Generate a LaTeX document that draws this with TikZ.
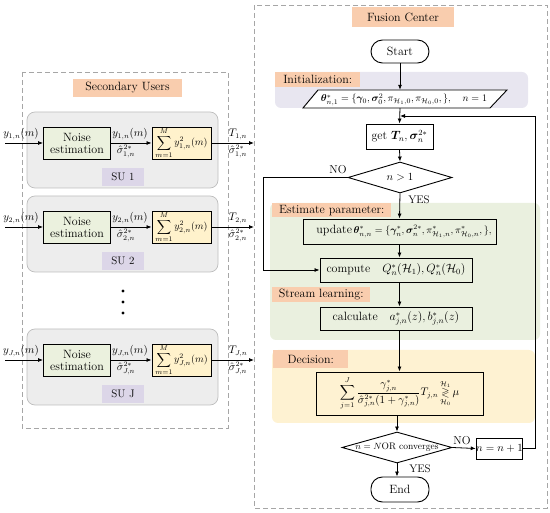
\documentclass[tikz,border=0pt]{standalone}
\usepackage{amsmath,amssymb,bm}
\usetikzlibrary{shapes.geometric,arrows.meta,calc}
\definecolor{lblorange}{HTML}{F9CDAE}
\definecolor{sugray}{HTML}{EDEDED}
\definecolor{suborder}{HTML}{BDBDBD}
\definecolor{sulbl}{HTML}{DCD6E8}
\definecolor{noisegreen}{HTML}{EBF1DE}
\definecolor{sumyellow}{HTML}{FFF2CC}
\definecolor{initbg}{HTML}{E8E6F0}
\definecolor{estbg}{HTML}{EAF0DF}
\definecolor{decbg}{HTML}{FEF2D2}
\definecolor{dashgray}{HTML}{A6A6A6}
\tikzset{
  box/.style={draw, line width=0.9pt, inner sep=0pt, align=center},
  arr/.style={-{Latex[length=5pt,width=4pt]}, line width=0.8pt},
  lbl/.style={fill=lblorange, inner sep=0pt},
  sulabel/.style={fill=sulbl, inner sep=0pt, minimum width=42pt, minimum height=18pt, font=\fontsize{11}{12}\selectfont},
  subox/.style={draw=suborder, fill=sugray, line width=0.7pt, rounded corners=8pt},
  dashbox/.style={draw=dashgray, line width=0.9pt, dash pattern=on 5pt off 3pt},
  region/.style={rounded corners=6pt},
  smalltxt/.style={font=\fontsize{10.5}{12}\selectfont, inner sep=0pt},
  dia/.style={draw, diamond, fill=white, line width=0.9pt, inner sep=0pt},
  stadium/.style={box, fill=white, rounded corners=11.5pt},
}
\begin{document}
\begin{tikzpicture}[x=1pt,y=-1pt,font=\fontsize{12}{14}\selectfont]
\useasboundingbox (0,0) rectangle (550,513);
% ---------- Secondary users ----------
\draw[dashbox] (22,72) rectangle (228,428);
\node[lbl, minimum width=109pt, minimum height=18pt] (sulbltitle) at (127.5,88) {Secondary Users};
\foreach \t/\i/\s [count=\k] in {112/1/SU 1, 196/2/SU 2, 329/J/SU J}{
  \draw[subox] (27,\t) rectangle (218,\t+76);
  \node[box, fill=noisegreen, minimum width=67pt, minimum height=32pt] (noise\k) at (77,\t+31) {Noise\\[-2pt]estimation};
  \node[box, fill=sumyellow, minimum width=59pt, minimum height=32pt, font=\fontsize{10}{12}\selectfont] (sum\k) at (181.5,\t+31) {$\displaystyle\sum_{m=1}^{M} y_{\i,n}^{2}(m)$};
  \node[sulabel] (su\k) at (123,\t+65) {\s};
  \coordinate (in\k) at (5,\t+31);
  \coordinate (out\k) at (254,\t+31);
  \draw[arr] (in\k) -- (noise\k.west);
  \draw[arr] (noise\k.east) -- (sum\k.west);
  \draw[arr] (sum\k.east) -- (out\k);
  \node[smalltxt, anchor=south] (yin\k) at (21,\t+28) {$y_{\i,n}(m)$};
  \node[smalltxt, anchor=south] (ymid\k) at (130,\t+28) {$y_{\i,n}(m)$};
  \node[smalltxt, anchor=north] (smid\k) at (126,\t+33) {$\hat{\sigma}^{2*}_{\i,n}$};
  \node[smalltxt, anchor=south] (tout\k) at (238,\t+28) {$T_{\i,n}$};
  \node[smalltxt, anchor=north] (sout\k) at (238,\t+33) {$\hat{\sigma}^{2*}_{\i,n}$};
}
\foreach \yy in {291,302,313}{\fill (123,\yy) circle (1.6pt);}
% ---------- Fusion center ----------
\draw[dashbox] (254,5) rectangle (547,508);
\node[lbl, minimum width=102pt, minimum height=20pt] (fctitle) at (403,17) {Fusion Center};
% regions
\fill[initbg, region] (275,72) rectangle (528,108);
\node[lbl, minimum width=85pt, minimum height=15pt, anchor=north west] (initlbl) at (275,72) {Initialization:};
\fill[estbg, region] (270,203) rectangle (540,340);
\node[lbl, minimum width=119pt, minimum height=14pt, anchor=north west] (estlbl) at (272,203) {Estimate parameter:};
\node[lbl, minimum width=98pt, minimum height=15pt, anchor=north west] (strlbl) at (272,287) {Stream learning:};
\fill[decbg, region] (272,350) rectangle (535,423);
\node[lbl, minimum width=75pt, minimum height=18pt, anchor=north west] (declbl) at (273,350) {Decision:};
% flow nodes
\node[stadium, minimum width=58pt, minimum height=23pt] (start) at (400,51.5) {Start};
\filldraw[fill=white, line width=0.9pt] (318,90) -- (507,90) -- (490,108) -- (303,108) -- cycle;
\node[inner sep=0pt, minimum width=160pt, minimum height=18pt, font=\fontsize{10}{12}\selectfont] (init) at (400,99) {};
\node[inner sep=0pt, font=\fontsize{10}{12}\selectfont] (inittxt) at (404,99.5)
  {$\bm{\theta}^{*}_{n,1}=\{\bm{\gamma}_0,\bm{\sigma}_0^2,\pi_{\mathcal{H}_1,0},\pi_{\mathcal{H}_0,0},\},\quad n=1$};
\node[box, fill=white, minimum width=67pt, minimum height=25pt] (get) at (399.5,136.5) {get $\bm{T}_n,\bm{\sigma}_n^{2*}$};
\node[dia, minimum width=104pt, minimum height=31pt] (dia1) at (400,177.5) {};
\node[smalltxt] (dia1txt) at (dia1.center) {$n>1$};
\node[box, fill=estbg, minimum width=193pt, minimum height=25pt] (update) at (399.5,231.5) {};
\node[inner sep=0pt, font=\fontsize{10}{12}\selectfont] (updtxt) at (404,231.5)
  {{\fontsize{12}{14}\selectfont update}\,$\bm{\theta}^{*}_{n,n}=\{\bm{\gamma}^{*}_n,\bm{\sigma}^{2*}_n,\pi^{*}_{\mathcal{H}_1,n},\pi^{*}_{\mathcal{H}_0,n},\},$};
\node[box, fill=estbg, minimum width=152pt, minimum height=24pt] (compute) at (396,270) {compute\quad $Q^{*}_n(\mathcal{H}_1),Q^{*}_n(\mathcal{H}_0)$};
\node[box, fill=estbg, minimum width=152pt, minimum height=23pt] (calc) at (396,318.5) {calculate\quad $a^{*}_{j,n}(z),b^{*}_{j,n}(z)$};
\node[box, fill=decbg, minimum width=167pt, minimum height=43pt, font=\fontsize{10.5}{12}\selectfont] (dec) at (399.5,393.5)
  {$\displaystyle\sum_{j=1}^{J}\frac{\gamma^{*}_{j,n}}{\hat{\sigma}^{2*}_{j,n}(1+\gamma^{*}_{j,n})}T_{j,n}\mathop{\gtrless}\limits_{\mathcal{H}_0}^{\mathcal{H}_1}\mu$};
\node[dia, minimum width=110pt, minimum height=31pt] (dia2) at (397,447.5) {};
\node[inner sep=0pt, font=\fontsize{9.5}{11}\selectfont] (dia2txt) at (dia2.center) {$n=N$OR converges};
\node[box, fill=white, minimum width=43pt, minimum height=21pt, font=\fontsize{11}{12}\selectfont] (inc) at (499.5,448.5) {$n=n+1$};
\node[stadium, minimum width=58pt, minimum height=25pt] (end) at (400,489.5) {End};
% connectors
\coordinate (fb) at (535,116);
\coordinate (join) at (400,116);
\coordinate (nocorner) at (263,177.5);
\draw[arr] (start.south) -- (start.south |- init.north);
\draw[arr] (start.south |- init.south) -- (get.north);
\draw[arr] (inc.east) -| (fb) -- (join);
\draw[arr] (get.south) -- (dia1.north);
\draw[arr] (dia1.south) -- (update.north);
\draw[arr] (dia1.west) -- (nocorner) |- (compute.west);
\draw[arr] (update.south) -- (update.south |- compute.north);
\draw[arr] (update.south |- compute.south) -- (update.south |- calc.north);
\draw[arr] (update.south |- calc.south) -- (update.south |- dec.north);
\draw[arr] (dia2.north |- dec.south) -- (dia2.north);
\draw[arr] (dia2.east) -- (inc.west);
\draw[arr] (dia2.south) -- (dia2.south |- end.north);
\node[font=\fontsize{11.5}{12}\selectfont, inner sep=0pt] (no1) at (338,170) {NO};
\node[font=\fontsize{11}{12}\selectfont, inner sep=0pt] (yes1) at (419,200) {YES};
\node[font=\fontsize{11.5}{12}\selectfont, inner sep=0pt] (no2) at (462,441) {NO};
\node[font=\fontsize{11}{12}\selectfont, inner sep=0pt] (yes2) at (420,469) {YES};
\end{tikzpicture}
\end{document}
